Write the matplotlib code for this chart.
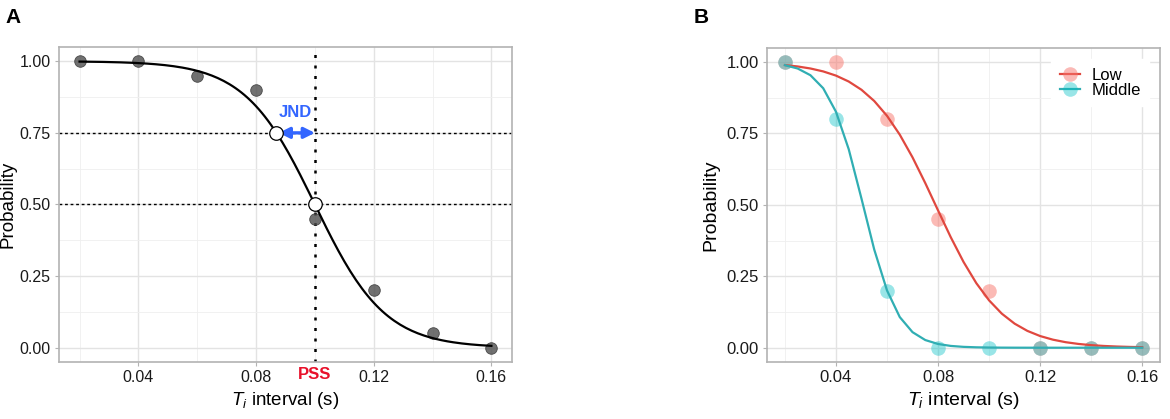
import numpy as np
import matplotlib
matplotlib.use("Agg")
import matplotlib.pyplot as plt
from matplotlib.ticker import MultipleLocator

plt.rcParams['font.family'] = ['Liberation Sans', 'DejaVu Sans']
plt.rcParams['mathtext.fontset'] = 'custom'
plt.rcParams['mathtext.it'] = 'Liberation Sans:italic'
plt.rcParams['mathtext.rm'] = 'Liberation Sans'

# observed proportions
intervals = [0.02, 0.04, 0.06, 0.08, 0.10, 0.12, 0.14, 0.16]
prob_a = [1.00, 1.00, 0.95, 0.90, 0.45, 0.20, 0.05, 0.00]
prob_low = [1.00, 1.00, 0.80, 0.45, 0.20, 0.00, 0.00, 0.00]
prob_mid = [1.00, 0.80, 0.20, 0.00, 0.00, 0.00, 0.00, 0.00]

# fitted logistic parameters (midpoint, scale)
fit_a = (0.100, 0.0119)
fit_low = (0.079, 0.0130)
fit_mid = (0.0506, 0.0068)
pss = 0.100
jnd_x = 0.0869

RED = '#F8766D'
CYAN = '#00BFC4'
RED_LINE = '#E0483F'
CYAN_LINE = '#30AEB3'


def logistic(x, mid, scale):
    return 1.0 / (1.0 + np.exp((x - mid) / scale))


def style_axes(ax, tick_size, ylab_size, xlab_size, ylab_pad):
    ax.set_xlim(0.013, 0.167)
    ax.set_ylim(-0.05, 1.05)
    ax.xaxis.set_minor_locator(MultipleLocator(0.02))
    ax.yaxis.set_minor_locator(MultipleLocator(0.125))
    ax.set_xticks([0.04, 0.08, 0.12, 0.16])
    ax.set_xticklabels(['0.04', '0.08', '0.12', '0.16'])
    yt = [0.0, 0.25, 0.5, 0.75, 1.0]
    ax.set_yticks(yt)
    ax.set_yticklabels(['%.2f' % v for v in yt])
    ax.grid(which='major', color='#E3E3E3', lw=1.0, zorder=0)
    ax.grid(which='minor', color='#EFEFEF', lw=0.6, zorder=0)
    ax.set_axisbelow(True)
    for sp in ax.spines.values():
        sp.set_color('#B3B3B3')
        sp.set_linewidth(1.2)
    ax.tick_params(which='major', length=3, color='#B3B3B3', labelsize=tick_size,
                   labelcolor='#1A1A1A', pad=3)
    ax.tick_params(which='minor', length=0)
    ax.set_ylabel('Probability', fontsize=ylab_size, labelpad=ylab_pad)
    ax.set_xlabel('$T_i$ interval (s)', fontsize=xlab_size, labelpad=3)


fig = plt.figure(figsize=(11.7, 4.19), dpi=100)
ax_a = fig.add_axes([0.0504, 0.136, 0.3872, 0.752])
ax_b = fig.add_axes([0.6556, 0.136, 0.3359, 0.750])

# ---- panel A
style_axes(ax_a, 11.5, 13.5, 13.5, 2)
xs = np.linspace(0.02, 0.16, 141)
ax_a.axhline(0.75, color='black', ls=(0, (2, 2)), lw=1.0, zorder=2)
ax_a.axhline(0.50, color='black', ls=(0, (2, 2)), lw=1.0, zorder=2)
ax_a.axvline(pss, color='black', ls=(0, (1.2, 3)), lw=1.8, zorder=2)
ax_a.scatter(intervals, prob_a, s=70, color='#4D4D4D', alpha=0.8,
             edgecolor='#333333', lw=0.6, zorder=3)
ax_a.plot(xs, logistic(xs, *fit_a), color='black', lw=1.6, zorder=4)
ax_a.annotate('', xy=(pss, 0.75), xytext=(jnd_x + 0.0008, 0.75),
              arrowprops=dict(arrowstyle='<|-|>', color='#3366FF', lw=2.4,
                              mutation_scale=16, shrinkA=0, shrinkB=0), zorder=5)
ax_a.scatter([jnd_x, pss], [0.75, 0.50], s=95, color='white',
             edgecolor='black', lw=0.9, zorder=6)
ax_a.text((jnd_x + pss) / 2, 0.795, 'JND', color='#3366FF', fontsize=12,
          fontweight='bold', ha='center', va='bottom')
ax_a.text(pss, -0.066, 'PSS', color='#E8102A', fontsize=12, fontweight='bold',
          ha='center', va='top', clip_on=False)

# ---- panel B
style_axes(ax_b, 12, 14, 14, 5)
xb = np.linspace(0.02, 0.16, 29)
ax_b.scatter(intervals, prob_low, s=110, color=RED, alpha=0.5, lw=0, zorder=3)
ax_b.scatter(intervals, prob_mid, s=110, color=CYAN, alpha=0.4, lw=0, zorder=3)
ax_b.plot(xb, logistic(xb, *fit_low), color=RED_LINE, lw=1.6, zorder=4)
ax_b.plot(xb, logistic(xb, *fit_mid), color=CYAN_LINE, lw=1.6, zorder=4)
h_low = ax_b.plot([], [], color=RED_LINE, lw=1.6, marker='o', ms=10.5,
                  mfc=(0.97, 0.46, 0.43, 0.5), mec=(0.97, 0.46, 0.43, 0.0))[0]
h_mid = ax_b.plot([], [], color=CYAN_LINE, lw=1.6, marker='o', ms=10.5,
                  mfc=(0.0, 0.75, 0.77, 0.4), mec=(0.0, 0.75, 0.77, 0.0))[0]
leg = ax_b.legend([h_low, h_mid], ['Low', 'Middle'], loc='upper right',
                  bbox_to_anchor=(0.993, 0.99), fontsize=12, frameon=True,
                  handlelength=1.2, handletextpad=0.7, labelspacing=0.0,
                  borderpad=0.5, fancybox=False)
leg.get_frame().set_edgecolor('white')
leg.get_frame().set_facecolor('white')
leg.get_frame().set_alpha(1.0)

fig.text(0.005, 0.98, 'A', fontsize=15, fontweight='bold', va='top')
fig.text(0.593, 0.98, 'B', fontsize=15, fontweight='bold', va='top')

fig.savefig('out.png', dpi=100)
